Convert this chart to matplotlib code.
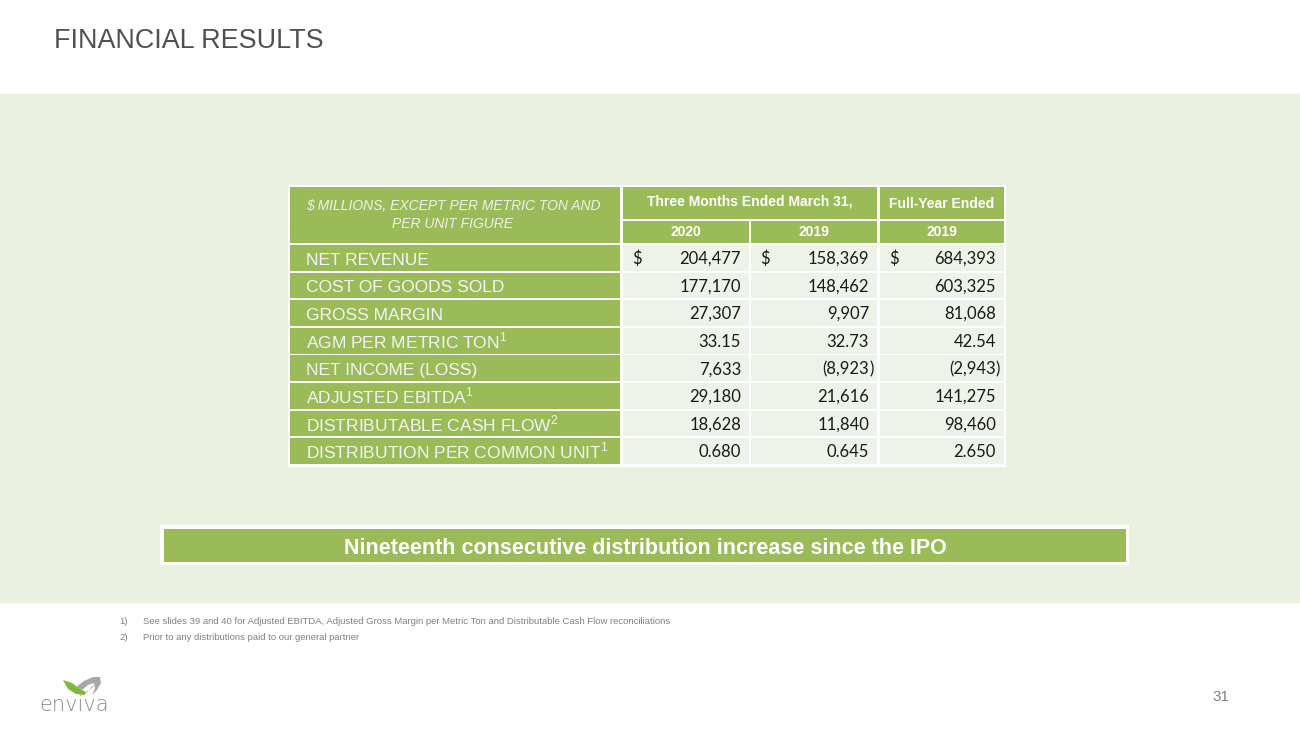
import matplotlib
matplotlib.use("Agg")
import matplotlib.pyplot as plt
from matplotlib.patches import Rectangle, Polygon
from matplotlib import font_manager

# ---------------- data ----------------
title = "FINANCIAL RESULTS"
header_note = "$ MILLIONS, EXCEPT PER METRIC TON AND\nPER UNIT FIGURE"
group_headers = ["Three Months Ended March 31,", "Full-Year Ended"]
year_labels = ["2020", "2019", "2019"]
row_labels = ["NET REVENUE", "COST OF GOODS SOLD", "GROSS MARGIN", "AGM PER METRIC TON",
              "NET INCOME (LOSS)", "ADJUSTED EBITDA", "DISTRIBUTABLE CASH FLOW",
              "DISTRIBUTION PER COMMON UNIT"]
row_notes = ["", "", "", "1", "", "1", "2", "1"]
row_decimals = [0, 0, 0, 2, 0, 0, 0, 3]
q1_2020 = [204477, 177170, 27307, 33.15, 7633, 29180, 18628, 0.680]
q1_2019 = [158369, 148462, 9907, 32.73, -8923, 21616, 11840, 0.645]
fy_2019 = [684393, 603325, 81068, 42.54, -2943, 141275, 98460, 2.650]
dollar_rows = [True, False, False, False, False, False, False, False]
banner = "Nineteenth consecutive distribution increase since the IPO"
footnotes = ["See slides 39 and 40 for Adjusted EBITDA, Adjusted Gross Margin per Metric Ton and Distributable Cash Flow reconciliations",
             "Prior to any distributions paid to our general partner"]
page_number = "31"

# ---------------- style ----------------
GREEN = "#9BBB59"
BAND = "#EBF1E0"
CELL = "#EEF3E7"
TITLE_C = "#505050"
GRAY = "#808080"

installed = {f.name for f in font_manager.fontManager.ttflist}
SANS = "Liberation Sans"
NARROW = "Liberation Sans Narrow" if "Liberation Sans Narrow" in installed else "Liberation Sans"
NUMF = "Lato" if "Lato" in installed else "DejaVu Sans"
plt.rcParams["mathtext.fontset"] = "custom"
plt.rcParams["mathtext.rm"] = SANS

fig = plt.figure(figsize=(13, 7.31), dpi=100)
ax = fig.add_axes([0, 0, 1, 1])
ax.set_xlim(0, 1300)
ax.set_ylim(731, 0)
ax.axis("off")
fig.patch.set_facecolor("white")

# band
ax.add_patch(Rectangle((0, 94), 1300, 509, facecolor=BAND, edgecolor="none"))

# title
ax.text(54, 47.5, title, fontsize=19.4, family=SANS, color=TITLE_C, va="baseline", ha="left")

# table geometry
tbl_x0, tbl_x1 = 288, 1006
ax.add_patch(Rectangle((tbl_x0, 185), tbl_x1 - tbl_x0, 282, facecolor="white", edgecolor="none"))
label_x = (290, 620)
cols = [(623, 749), (751, 877), (880, 1004)]
h1 = (187, 219)
h2 = (221, 243)
row_top0 = 245
row_step = 27.6
row_h = 25.8

def rect(x0, x1, y0, y1, color):
    ax.add_patch(Rectangle((x0, y0), x1 - x0, y1 - y0, facecolor=color, edgecolor="none"))

# header cells
rect(label_x[0], label_x[1], h1[0], h2[1], GREEN)
ax.text((label_x[0] + label_x[1]) / 2 - 2, (h1[0] + h2[1]) / 2, header_note, fontsize=10,
        style="italic", family=SANS, color="#F0F0F0", ha="center", va="center", linespacing=1.45)
rect(cols[0][0], cols[1][1], h1[0], h1[1], GREEN)
ax.text((cols[0][0] + cols[1][1]) / 2, (h1[0] + h1[1]) / 2 - 1, group_headers[0], fontsize=10,
        weight="bold", family=SANS, color="white", ha="center", va="center")
rect(cols[2][0], cols[2][1], h1[0], h1[1], GREEN)
ax.text((cols[2][0] + cols[2][1]) / 2, (h1[0] + h1[1]) / 2 + 1, group_headers[1], fontsize=10,
        weight="bold", family=SANS, color="white", ha="center", va="center")
for (c0, c1), yl in zip(cols, year_labels):
    rect(c0, c1, h2[0], h2[1], GREEN)
    ax.text((c0 + c1) / 2, (h2[0] + h2[1]) / 2, yl, fontsize=10, weight="bold", family=SANS,
            color="white", ha="center", va="center")

def fmt(v, d):
    s = f"{abs(v):,.{d}f}"
    return s, v < 0

series = [q1_2020, q1_2019, fy_2019]
for i, lab in enumerate(row_labels):
    y0 = row_top0 + i * row_step
    y1 = y0 + row_h
    yc = (y0 + y1) / 2
    rect(label_x[0], label_x[1], y0, y1, GREEN)
    txt = lab + (r"$^{\mathregular{%s}}$" % row_notes[i] if row_notes[i] else "")
    base = yc + 7.5 if row_notes[i] else yc + 7
    ax.text(306, base, txt, fontsize=12.5, family=SANS, color="#F4F4F4", ha="left", va="baseline")
    for (c0, c1), ser in zip(cols, series):
        rect(c0, c1, y0, y1, CELL)
        s, neg = fmt(ser[i], row_decimals[i])
        xr = c1 - 8
        nb = yc + 6
        if neg:
            ax.text(xr, nb, "(" + s, fontsize=12, family=NUMF, color="#1a1a1a", ha="right", va="baseline")
            ax.text(xr, nb, ")", fontsize=12, family=NUMF, color="#1a1a1a", ha="left", va="baseline")
        else:
            ax.text(xr, nb, s, fontsize=12, family=NUMF, color="#1a1a1a", ha="right", va="baseline")
        if dollar_rows[i]:
            ax.text(c0 + 9, nb, "$", fontsize=12, family=NUMF, color="#1a1a1a", ha="left", va="baseline")

# banner
rect(160, 1129, 525, 565, "white")
rect(164, 1126, 529, 562, GREEN)
ax.text(645, 553.5, banner, fontsize=15.5, weight="bold", family=NARROW, color="white",
        ha="center", va="baseline")

# footnotes
for k, fn in enumerate(footnotes):
    yy = 621 + k * 16
    ax.text(119, yy, f"{k+1})", fontsize=6.8, family=SANS, color=GRAY, ha="left", va="center")
    ax.text(143, yy, fn, fontsize=6.8, family=SANS, color=GRAY, ha="left", va="center")

# logo (simplified)
ax.add_patch(Polygon([(63, 680), (72, 683), (80, 689), (86, 692), (92, 688), (95, 683),
                      (90, 689), (84, 695), (76, 694), (68, 689)], closed=True,
                     facecolor="#7DB93A", edgecolor="none"))
ax.add_patch(Polygon([(76, 687), (84, 681), (93, 677), (100, 677), (101, 683), (97, 690),
                      (92, 695), (95, 688), (94, 683), (88, 685), (82, 690)], closed=True,
                     facecolor="#A8A8A8", edgecolor="none"))
ax.text(74, 705, "enviva", fontsize=15, family="DejaVu Sans", weight="light", color="#8A8A8A",
        ha="center", va="center")

# page number
ax.text(1221, 697, page_number, fontsize=11, family=SANS, color=GRAY, ha="center", va="center")

fig.savefig("out.png", dpi=100, facecolor="white")
